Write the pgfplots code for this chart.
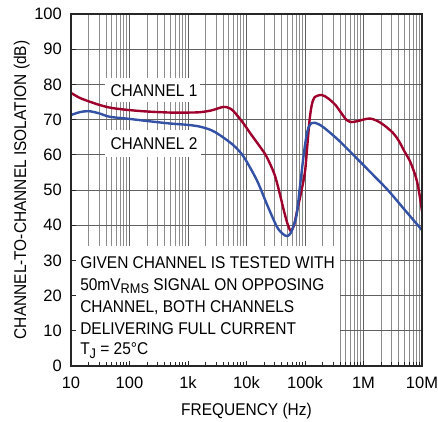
\documentclass[border=0pt]{standalone}
\usepackage{fontspec}
\setmainfont{Liberation Sans}[FakeStretch=0.91]
\newfontfamily\tickfont{Liberation Sans}
\usepackage{pgfplots}
\pgfplotsset{compat=1.18}
\definecolor{chone}{RGB}{158,0,44}
\definecolor{chtwo}{RGB}{52,82,165}
\begin{document}
\begin{tikzpicture}[font=\fontsize{17}{20}\selectfont]
\begin{axis}[
  scale only axis, width=351pt, height=352pt,
  xmode=log, log basis x=10,
  xmin=10, xmax=1e7, ymin=0, ymax=100,
  xtick={10,100,1000,10000,100000,1000000,10000000},
  minor xtick={20,30,40,50,60,70,80,90,200,300,400,500,600,700,800,900,2000,3000,4000,5000,6000,7000,8000,9000,20000,30000,40000,50000,60000,70000,80000,90000,200000,300000,400000,500000,600000,700000,800000,900000,2000000,3000000,4000000,5000000,6000000,7000000,8000000,9000000},
  ytick={0,10,...,100},
  tick align=inside, tick pos=left,
  major tick length=5pt, minor tick length=4pt,
  tick style={black!85, line width=0.8pt},
  axis line style={black!85, line width=1.3pt},
  xticklabels={10,100,1k,10k,100k,1M,10M},
  xmajorgrids, xminorgrids, ymajorgrids,
  major grid style={black!62, line width=0.8pt},
  minor grid style={black!45, line width=0.8pt},
  /pgf/number format/assume math mode=true,
  ticklabel style={font=\tickfont\fontsize{16.5}{18}\selectfont},
  yticklabel style={anchor=east, inner sep=0pt, xshift=-9pt},
  xticklabel style={anchor=north, inner sep=0pt, yshift=-10.5pt},
  xlabel={FREQUENCY (Hz)},
  xlabel style={at={(axis description cs:0.5,-0.1392)}, anchor=base, inner sep=0pt},
  ylabel={CHANNEL-TO-CHANNEL ISOLATION (dB)},
  ylabel style={at={(axis description cs:-0.128,0.5)}, anchor=base, inner sep=0pt},
]
\fill[white] (axis cs:10,0) rectangle (axis cs:3.98e5,34.2);
\fill[white] (axis cs:38,75) rectangle (axis cs:1600,81.8);
\fill[white] (axis cs:38,59.4) rectangle (axis cs:1700,67);
\addplot[chone, line width=2.4pt, smooth, tension=0.5] coordinates {
(10,77.6) (14,76.2) (20,75.2) (31.6,74.1) (50,73.3) (100,72.7) (200,72.3)
(500,72.0) (1000,72.0) (1600,72.1) (2500,72.6) (4000,73.6) (5000,73.3)
(6000,72.4) (8900,68.9) (11500,66.2) (17000,62.3) (22000,59.5) (30000,54.5)
(37000,49.0) (43000,44.5) (50000,40.5) (57000,38.4) (65000,40.0) (72000,43.5)
(85000,49.0) (100000,55.2) (110000,63) (120000,70) (130000,74) (145000,76.3)
(193000,77.0) (250000,76.0) (330000,74.2) (400000,72.3) (513000,69.9)
(630000,69.3) (800000,69.6) (1300000,70.3) (2000000,69.0) (3160000,66.3)
(4000000,64) (5000000,61) (6300000,58) (7900000,53.5) (8900000,49.5) (10000000,44)
};
\addplot[chtwo, line width=2.4pt, smooth, tension=0.5] coordinates {
(10,71.3) (14,72.1) (20,72.4) (30,71.8) (46,70.8) (100,70.2) (200,69.6)
(490,68.9) (1000,68.5) (1600,68.0) (2500,67.0) (3500,65.6) (5900,62.8)
(8900,59.5) (15000,52.8) (22000,46.2) (33000,39.6) (42000,37.5) (50000,36.9)
(57000,37.8) (63000,39.6) (72000,43) (82000,51) (95000,60) (105000,65)
(115000,67.8) (130000,69) (148000,69.1) (200000,68) (372000,64.2)
(716000,59.5) (1380000,54.7) (2600000,50) (5100000,44.3) (10000000,38.6)
};
\node[anchor=base] at (axis cs:262,76.7) {CHANNEL 1};
\node[anchor=base] at (axis cs:262,61.4) {CHANNEL 2};
\node[anchor=base west, inner sep=0pt] at (axis cs:14.3,27.76) {GIVEN CHANNEL IS TESTED WITH};
\node[anchor=base west, inner sep=0pt] at (axis cs:14.3,21.59) {50mV\raisebox{-3.5pt}{\fontsize{14}{14}\selectfont RMS} SIGNAL ON OPPOSING};
\node[anchor=base west, inner sep=0pt] at (axis cs:14.3,15.14) {CHANNEL, BOTH CHANNELS};
\node[anchor=base west, inner sep=0pt] at (axis cs:14.3,9.0) {DELIVERING FULL CURRENT};
\node[anchor=base west, inner sep=0pt] at (axis cs:14.3,3.13) {T\raisebox{-3.5pt}{\fontsize{14}{14}\selectfont J} = 25°C};
\end{axis}
\begin{axis}[
  scale only axis, width=351pt, height=352pt,
  xmode=log, log basis x=10,
  xmin=10, xmax=1e7, ymin=0, ymax=100,
  xtick={10,100,1000,10000,100000,1000000,10000000},
  minor xtick={20,30,40,50,60,70,80,90,200,300,400,500,600,700,800,900,2000,3000,4000,5000,6000,7000,8000,9000,20000,30000,40000,50000,60000,70000,80000,90000,200000,300000,400000,500000,600000,700000,800000,900000,2000000,3000000,4000000,5000000,6000000,7000000,8000000,9000000},
  ytick={0,10,...,100},
  tick align=inside, tick pos=left,
  major tick length=5pt, minor tick length=4pt,
  tick style={black!85, line width=0.8pt},
  axis line style={black!85, line width=1.3pt},
  xticklabels={}, yticklabels={},
]
\end{axis}
\pgfresetboundingbox
\useasboundingbox (-71pt,-55pt) rectangle (367pt,366pt);
\end{tikzpicture}
\end{document}
